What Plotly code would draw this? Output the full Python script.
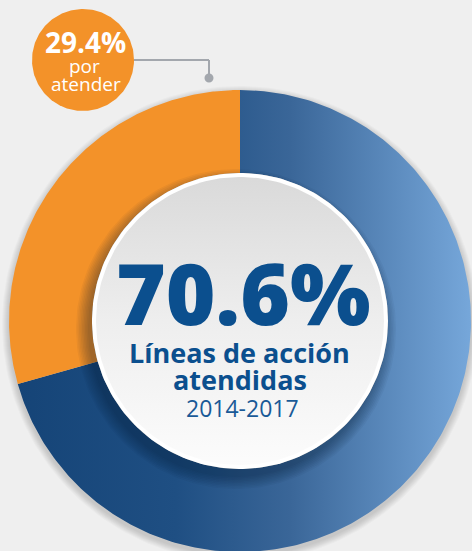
import numpy as np
import plotly.graph_objects as go

# ---- data ----
categories = ["Líneas de acción atendidas", "Por atender"]
values = [70.6, 29.4]
period = "2014-2017"
main_label = ["Líneas de acción", "atendidas"]
side_label = ["por", "atender"]

# ---- geometry / style ----
W, H = 472, 551
CX, CY = 240, H - 321
R_OUT, R_IN = 231, 148
BLUE_TEXT = "#0b4f8e"
ORANGE = "#f39229"
BLUE_SCALE = [[0, "#154477"], [0.35, "#1f4f83"], [0.6, "#3a6698"], [1, "#76a7da"]]

fig = go.Figure()


def circle(cx, cy, r, n=240):
    t = np.linspace(0, 2 * np.pi, n)
    return cx + r * np.cos(t), cy + r * np.sin(t)


def ring_slice(a0, a1, n=300):
    t = np.radians(np.linspace(a0, a1, n))
    xo = CX + R_OUT * np.cos(t)
    yo = CY + R_OUT * np.sin(t)
    xi = CX + R_IN * np.cos(t[::-1])
    yi = CY + R_IN * np.sin(t[::-1])
    xs = np.concatenate([xo, xi, xo[:1]])
    ys = np.concatenate([yo, yi, yo[:1]])
    return xs, ys


def deco(xs, ys, **kw):
    fig.add_trace(go.Scatter(x=xs, y=ys, mode="lines", fill="toself",
                             line=dict(width=0), hoverinfo="skip",
                             showlegend=False, **kw))


# soft outer shadow of the donut
for k in range(1, 8):
    xs, ys = circle(CX, CY - 3, R_OUT + k)
    deco(xs, ys, fillcolor="rgba(0,0,0,0.025)")

# donut slices, clockwise from 12 o'clock
total = sum(values)
start = 90.0
for cat, val in zip(categories, values):
    end = start - val / total * 360.0
    xs, ys = ring_slice(start, end)
    if cat == categories[0]:
        fig.add_trace(go.Scatter(
            x=xs, y=ys, mode="lines", fill="toself", line=dict(width=0),
            fillgradient=dict(type="horizontal", colorscale=BLUE_SCALE),
            name=cat, hoverinfo="name", showlegend=False))
    else:
        fig.add_trace(go.Scatter(
            x=xs, y=ys, mode="lines", fill="toself", line=dict(width=0),
            fillcolor=ORANGE, name=cat, hoverinfo="name", showlegend=False))
    start = end

# drop shadow of the central disc
for k in np.arange(0, 13, 1.5):
    xs, ys = circle(CX - 4, CY - 8, R_IN + k)
    deco(xs, ys, fillcolor="rgba(5,20,45,0.045)")

# central disc: white rim + grey gradient
xs, ys = circle(CX, CY, R_IN)
deco(xs, ys, fillcolor="#ffffff")
xs, ys = circle(CX, CY, R_IN - 4)
deco(xs, ys, fillgradient=dict(type="vertical", start=CY + R_IN, stop=CY - R_IN,
                               colorscale=[[0, "#d9d9d9"], [0.5, "#eeeeee"], [1, "#fcfcfc"]]))

# orange bubble for the pending share
BX, BY, BR = 83, H - 60, 51
xs, ys = circle(BX, BY, BR)
deco(xs, ys, fillcolor=ORANGE)

shapes = [
    dict(type="line", xref="x", yref="y", x0=BX + BR, y0=BY, x1=209, y1=BY,
         line=dict(color="#a3a7ad", width=2)),
    dict(type="line", xref="x", yref="y", x0=209, y0=BY, x1=209, y1=H - 77,
         line=dict(color="#a3a7ad", width=2)),
    dict(type="circle", xref="x", yref="y", x0=204.5, y0=H - 82.5, x1=213.5, y1=H - 73.5,
         fillcolor="#a3a7ad", line=dict(width=0)),
]

ann = [
    dict(x=243, y=H - 292, text=f"{values[0]}%",
         font=dict(family="Open Sans", size=85, weight=800, color=BLUE_TEXT)),
    dict(x=239, y=H - 352, text=main_label[0],
         font=dict(family="Open Sans", size=27, weight="bold", color=BLUE_TEXT)),
    dict(x=240, y=H - 379, text=main_label[1],
         font=dict(family="Open Sans", size=27, weight="bold", color=BLUE_TEXT)),
    dict(x=242, y=H - 408, text=period,
         font=dict(family="Open Sans", size=23, color="#1a5a97")),
    dict(x=85, y=H - 42, text=f"{values[1]}%",
         font=dict(family="Open Sans", size=28, weight="bold", color="#ffffff")),
    dict(x=84, y=H - 66, text=side_label[0],
         font=dict(family="Open Sans", size=19, color="#ffffff")),
    dict(x=86, y=H - 84, text=side_label[1],
         font=dict(family="Open Sans", size=19, color="#ffffff")),
]
for a in ann:
    a.update(xref="x", yref="y", showarrow=False, xanchor="center", yanchor="middle")

fig.update_layout(
    width=W, height=H, margin=dict(l=0, r=0, t=0, b=0),
    paper_bgcolor="#efefef", plot_bgcolor="#efefef",
    xaxis=dict(range=[0, W], visible=False, fixedrange=True),
    yaxis=dict(range=[0, H], visible=False, fixedrange=True),
    shapes=shapes, annotations=ann, showlegend=False,
)

fig.write_html("out.html", config={"displayModeBar": False},
               post_script="document.body.style.margin='0';document.body.style.overflow='hidden';")
